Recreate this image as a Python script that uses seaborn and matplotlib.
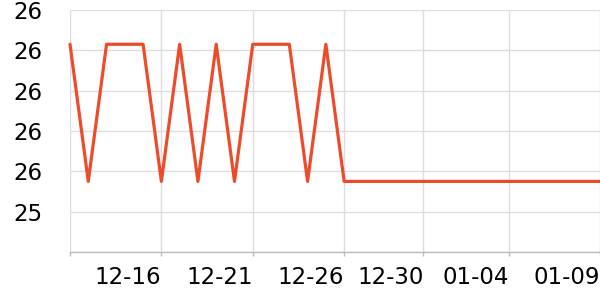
import matplotlib
matplotlib.use("Agg")
import matplotlib.pyplot as plt
import seaborn as sns
import pandas as pd
import numpy as np

dates = pd.date_range("2023-12-11", "2024-01-09", freq="D")
high, low = 26.23, 25.55
values = [high, low, high, high, high, low, high, low, high, low,
          high, high, high, low, high, low] + [low] * 14
tick_dates = pd.to_datetime(["2023-12-11 00:00", "2023-12-16 00:00", "2023-12-21 00:00",
                             "2023-12-26 00:00", "2023-12-30 08:00", "2024-01-04 00:00",
                             "2024-01-09 00:00"], format="%Y-%m-%d %H:%M")
tick_labels = ["", "12-16", "12-21", "12-26", "12-30", "01-04", "01-09"]
y_ticks = [25.2, 25.4, 25.6, 25.8, 26.0, 26.2, 26.4]

df = pd.DataFrame({"date": dates, "value": values})

sns.set_theme(style="white")
plt.rcParams['font.family'] = ['DejaVu Sans']

fig = plt.figure(figsize=(6, 3), dpi=100)
ax = fig.add_axes([70/600, 48/300, 530/600, 242/300])
sns.lineplot(data=df, x="date", y="value", ax=ax, color="#ee4b2b", linewidth=2.3, clip_on=False)

ax.set_xlim(dates[0], dates[-1])
ax.set_ylim(y_ticks[0], y_ticks[-1])
ax.set_yticks(y_ticks)
ax.set_yticklabels([""] + ["%.0f" % v for v in y_ticks[1:]])
ax.set_xticks(tick_dates)
ax.set_xticklabels(tick_labels, ha="right")
ax.set_xlabel("")
ax.set_ylabel("")

ax.grid(True, color="#dddddd", linewidth=1)
for s in ["top", "right", "left"]:
    ax.spines[s].set_visible(False)
ax.spines["bottom"].set_color("#bbbbbb")
ax.spines["bottom"].set_linewidth(1)
ax.tick_params(axis="y", length=0, pad=20, labelsize=16.5, labelcolor="black")
ax.tick_params(axis="x", length=3, width=1, color="#bbbbbb", pad=7, labelsize=16.5, labelcolor="black", bottom=True)
ax.set_axisbelow(True)

fig.savefig("out.png", dpi=100)
